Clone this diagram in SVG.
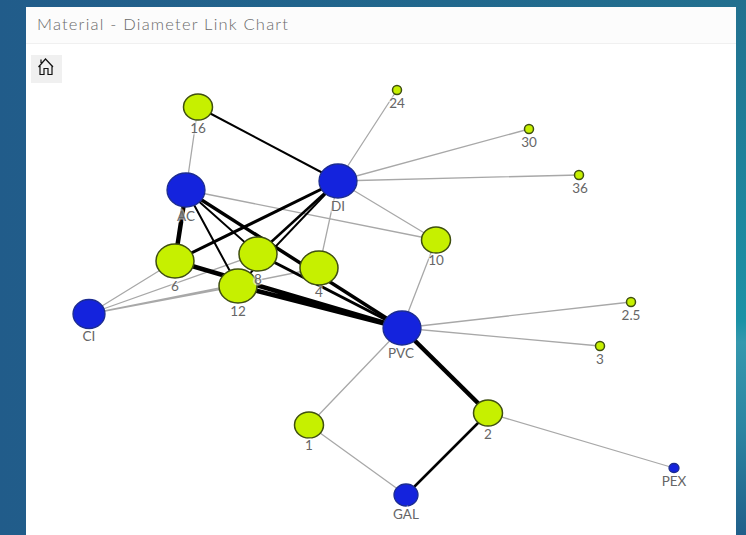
<svg xmlns="http://www.w3.org/2000/svg" width="746" height="535" viewBox="0 0 746 535">
<style>
text{font-family:Lato,"Open Sans","Liberation Sans",sans-serif;fill:#666;text-anchor:middle;font-size:13.500px;stroke:#fff;stroke-opacity:.55;stroke-width:3px;paint-order:stroke}
.t{stroke:#a8a8a8;stroke-width:1.300;fill:none}
.k{stroke:#000;fill:none}
.g{fill:#c6f000;stroke:#3f4f10;stroke-width:1.500}
.b{fill:#1423dd;stroke:#1c2c90;stroke-width:1.300}
</style>
<defs>
<linearGradient id="bg" x1="0" y1="0" x2="1" y2="0"><stop offset="0" stop-color="#215c8a"/><stop offset="1" stop-color="#22708f"/></linearGradient>
<linearGradient id="side" x1="0" y1="0" x2="0" y2="1"><stop offset="0" stop-color="#22708f"/><stop offset="0.6" stop-color="#1c92a6"/><stop offset="0.64" stop-color="#3598ae"/><stop offset="0.8" stop-color="#2c85a2"/><stop offset="1" stop-color="#205f8a"/></linearGradient>
</defs>
<rect width="746" height="535" fill="url(#bg)"/>
<rect x="736" y="0" width="10" height="535" fill="url(#side)"/>
<rect x="26" y="7" width="710" height="528" fill="#fff"/>
<rect x="26" y="7" width="710" height="36" fill="#fcfcfc"/>
<line x1="26" y1="43.500" x2="736" y2="43.500" stroke="#f0f0f0"/>
<text x="37" y="30" style="text-anchor:start;font-size:16.500px;letter-spacing:1.200px;font-weight:300;fill:#6a6a6a;stroke:none">Material - Diameter Link Chart</text>
<g id="home">
<rect x="31" y="55" width="31" height="28" fill="#f0f0f0"/>
<path d="M38.500 67 L45.500 59 L53 67 M40 65 V74.500 H44 V68.500 H48 V74.500 H52 V65 M41 63 V59.500" fill="none" stroke="#111" stroke-width="1.200"/>
</g>
<g id="connectors">
<path class="t" d="M186 190L198 107M338 181L397 90M338 181L529 129M338 181L579 175M338 181L436 240M338 181L319 268M186 190L436 240M436 240L402 328M402 328L631 302M402 328L600 346M402 328L309 425M309 425L406 495M488 413L674 468M89 314L175 261M89 314L258 254M89 314L319 268M89 314L238 286"/>
<path class="k" stroke-width="2" d="M198 107L338 181"/>
<path class="k" stroke-width="4.500" d="M186 190L175 261"/>
<path class="k" stroke-width="2" d="M186 190L258 254M186 190L238 286"/>
<path class="k" stroke-width="3.500" d="M186 190L402 328"/>
<path class="k" stroke-width="3" d="M338 181L175 261"/>
<path class="k" stroke-width="2.500" d="M338 181L258 254"/>
<path class="k" stroke-width="2" d="M338 181L238 286"/>
<path class="k" stroke-width="4.500" d="M175 261L402 328M238 286L402 328"/>
<path class="k" stroke-width="3" d="M258 254L402 328"/>
<path class="k" stroke-width="4.500" d="M402 328L488 413"/>
<path class="k" stroke-width="2.500" d="M488 413L406 495"/>
</g>
<g id="n16"><ellipse class="g" cx="198" cy="107" rx="14.500" ry="13"/><text x="198" y="133">16</text></g>
<g id="nAC"><ellipse class="b" cx="186" cy="190" rx="19" ry="17"/><text x="186" y="221">AC</text></g>
<g id="nDI"><ellipse class="b" cx="338" cy="181" rx="19" ry="17"/><text x="338" y="211">DI</text></g>
<g id="n24"><ellipse class="g" cx="397" cy="90" rx="4.500" ry="4.500"/><text x="397" y="108">24</text></g>
<g id="n30"><ellipse class="g" cx="529" cy="129" rx="4.500" ry="4.500"/><text x="529" y="147">30</text></g>
<g id="n36"><ellipse class="g" cx="579" cy="175" rx="4.500" ry="4.500"/><text x="580" y="193">36</text></g>
<g id="n10"><ellipse class="g" cx="436" cy="240" rx="14.500" ry="13"/><text x="436" y="265">10</text></g>
<g id="n6"><ellipse class="g" cx="175" cy="261" rx="19" ry="17"/><text x="175" y="291">6</text></g>
<g id="n8"><ellipse class="g" cx="258" cy="254" rx="19" ry="17"/></g>
<g id="n4"><ellipse class="g" cx="319" cy="268" rx="19" ry="17"/><text x="319" y="297">4</text></g>
<g id="n12"><ellipse class="g" cx="238" cy="286" rx="19" ry="17"/><text x="238" y="316">12</text></g>
<g id="n8-label"><text x="258" y="284">8</text></g>
<g id="nCI"><ellipse class="b" cx="89" cy="314" rx="16" ry="14.500"/><text x="89" y="341">CI</text></g>
<g id="nPVC"><ellipse class="b" cx="402" cy="328" rx="19" ry="17"/><text x="401" y="358">PVC</text></g>
<g id="n25"><ellipse class="g" cx="631" cy="302" rx="4.500" ry="4.500"/><text x="631" y="320">2.5</text></g>
<g id="n3"><ellipse class="g" cx="600" cy="346" rx="4.500" ry="4.500"/><text x="600" y="364">3</text></g>
<g id="n1"><ellipse class="g" cx="309" cy="425" rx="14.500" ry="13"/><text x="309" y="450">1</text></g>
<g id="n2"><ellipse class="g" cx="488" cy="413" rx="14.500" ry="13"/><text x="488" y="439">2</text></g>
<g id="nGAL"><ellipse class="b" cx="406" cy="495" rx="12" ry="11"/><text x="406" y="519">GAL</text></g>
<g id="nPEX"><ellipse class="b" cx="674" cy="468" rx="5" ry="4.500"/><text x="674" y="486">PEX</text></g>
</svg>
